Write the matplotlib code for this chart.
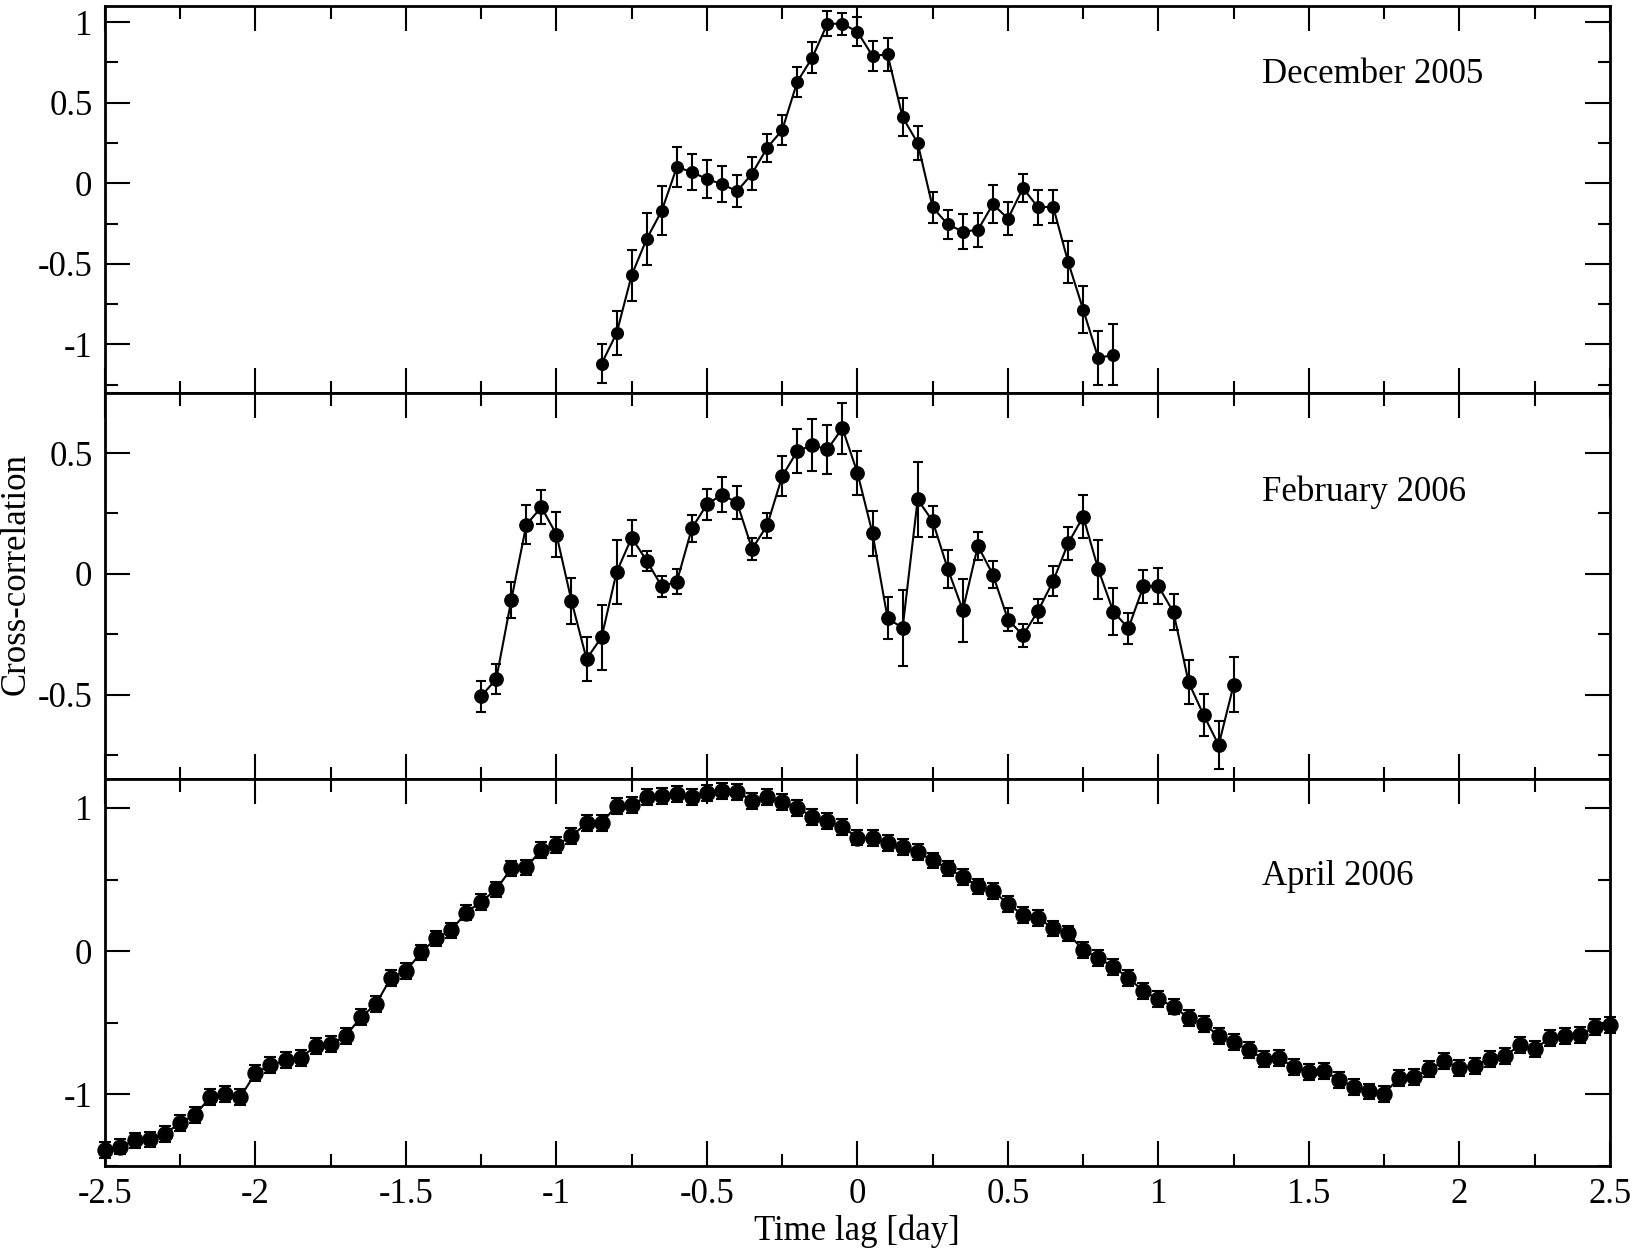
import numpy as np
import matplotlib
matplotlib.use("Agg")
import matplotlib.pyplot as plt
from matplotlib.ticker import MultipleLocator, FuncFormatter

plt.rcParams['font.family'] = ['Liberation Serif', 'DejaVu Serif']
plt.rcParams['font.size'] = 25
plt.rcParams['axes.unicode_minus'] = False

# December 2005: lags -0.85 .. 0.85 day
lag_dec = np.linspace(-0.85, 0.85, 35)
cc_dec = [-1.12, -0.93, -0.57, -0.345, -0.17, 0.10, 0.07, 0.025, -0.005, -0.05,
          0.06, 0.22, 0.33, 0.63, 0.78, 0.99, 0.99, 0.94, 0.79, 0.80,
          0.41, 0.25, -0.15, -0.255, -0.30, -0.29, -0.13, -0.22, -0.03, -0.15,
          -0.145, -0.49, -0.785, -1.085, -1.065]
err_dec = [0.12, 0.134, 0.158, 0.162, 0.154, 0.123, 0.11, 0.117, 0.11, 0.10,
           0.103, 0.087, 0.095, 0.092, 0.095, 0.077, 0.068, 0.09, 0.093, 0.104,
           0.116, 0.103, 0.095, 0.09, 0.106, 0.107, 0.116, 0.102, 0.089, 0.11,
           0.10, 0.13, 0.146, 0.17, 0.19]

# February 2006: lags -1.25 .. 1.25 day
lag_feb = np.linspace(-1.25, 1.25, 51)
cc_feb = [-0.506, -0.435, -0.108, 0.204, 0.276, 0.163, -0.112, -0.352, -0.262, 0.008,
          0.150, 0.054, -0.052, -0.032, 0.189, 0.288, 0.328, 0.295, 0.103, 0.201,
          0.404, 0.508, 0.533, 0.515, 0.603, 0.418, 0.168, -0.183, -0.224, 0.308,
          0.218, 0.021, -0.150, 0.116, -0.003, -0.189, -0.254, -0.153, -0.030, 0.127,
          0.237, 0.019, -0.156, -0.225, -0.051, -0.051, -0.159, -0.448, -0.584, -0.708,
          -0.458]
err_feb = [0.064, 0.062, 0.074, 0.08, 0.07, 0.092, 0.096, 0.09, 0.135, 0.134,
           0.074, 0.042, 0.043, 0.052, 0.055, 0.064, 0.072, 0.068, 0.045, 0.053,
           0.083, 0.092, 0.106, 0.10, 0.106, 0.092, 0.092, 0.086, 0.157, 0.155,
           0.064, 0.08, 0.13, 0.057, 0.055, 0.047, 0.048, 0.051, 0.062, 0.068,
           0.088, 0.121, 0.098, 0.064, 0.069, 0.074, 0.075, 0.09, 0.088, 0.10,
           0.113]

# April 2006: lags -2.5 .. 2.5 day
lag_apr = np.linspace(-2.5, 2.5, 101)
cc_apr = [-1.387, -1.364, -1.322, -1.315, -1.275, -1.198, -1.142, -1.019, -0.995, -1.019,
          -0.851, -0.797, -0.762, -0.746, -0.662, -0.650, -0.592, -0.462, -0.371, -0.186,
          -0.140, -0.009, 0.089, 0.145, 0.270, 0.345, 0.431, 0.578, 0.585, 0.709,
          0.741, 0.804, 0.893, 0.895, 1.016, 1.021, 1.079, 1.086, 1.100, 1.079,
          1.107, 1.119, 1.114, 1.051, 1.079, 1.044, 1.002, 0.939, 0.909, 0.869,
          0.793, 0.788, 0.758, 0.727, 0.692, 0.634, 0.578, 0.520, 0.452, 0.420,
          0.331, 0.252, 0.233, 0.159, 0.124, 0.007, -0.047, -0.110, -0.186, -0.280,
          -0.336, -0.387, -0.466, -0.506, -0.592, -0.634, -0.692, -0.751, -0.746, -0.809,
          -0.844, -0.837, -0.897, -0.949, -0.979, -0.995, -0.883, -0.879, -0.825, -0.769,
          -0.814, -0.802, -0.751, -0.734, -0.657, -0.685, -0.604, -0.592, -0.587, -0.529,
          -0.513]
err_apr = 0.055  # roughly the same for every lag

panels = [
    (lag_dec, cc_dec, err_dec, "December 2005", (-1.3, 1.1), 0.5, 0.25, 0.62, 8.4, 3.5),
    (lag_feb, cc_feb, err_feb, "February 2006", (-0.85, 0.75), 0.5, 0.25, 0.30, 9.6, 3.8),
    (lag_apr, cc_apr, err_apr, "April 2006", (-1.5, 1.2), 1.0, 0.5, 0.46, 10.8, 4.5),
]

fig, axes = plt.subplots(3, 1, figsize=(16.37, 12.52), dpi=100, sharex=True)
fig.subplots_adjust(left=0.0641, right=0.9835, top=0.9952, bottom=0.0687, hspace=0)

fmt = FuncFormatter(lambda v, p: "%g" % round(v, 3))

for ax, (lag, cc, err, label, ylim, major, minor, ylab, ms, cap) in zip(axes, panels):
    ax.errorbar(lag, cc, yerr=err, fmt='-o', color='black', ms=ms, lw=1.5,
                elinewidth=1.5, capsize=cap, capthick=1.5, clip_on=False, zorder=3)
    ax.set_xlim(-2.5, 2.5)
    ax.set_ylim(*ylim)
    ax.yaxis.set_major_locator(MultipleLocator(major))
    ax.yaxis.set_minor_locator(MultipleLocator(minor))
    ax.xaxis.set_major_locator(MultipleLocator(0.5))
    ax.xaxis.set_minor_locator(MultipleLocator(0.25))
    ax.yaxis.set_major_formatter(fmt)
    ax.xaxis.set_major_formatter(fmt)
    ax.tick_params(which='both', direction='in', top=True, right=True, width=1.5)
    ax.tick_params(which='major', length=18, pad=9)
    ax.tick_params(which='minor', length=9)
    for s in ax.spines.values():
        s.set_linewidth(2)
    ax.text(1.345, ylab, label, ha='left', va='baseline')

    # hide the tick labels that would sit on the panel borders
    lo, hi = ylim
    ax.set_yticks([t for t in np.arange(-2, 2.01, major) if lo < t < hi])

fig.text(16 / 1637, 1 - 574 / 1252, "Cross-correlation", rotation=90,
         ha='center', va='center')
fig.text(0.5235, 1 - 1231 / 1252, "Time lag [day]", ha='center', va='center')

fig.savefig("out.png", dpi=100)
